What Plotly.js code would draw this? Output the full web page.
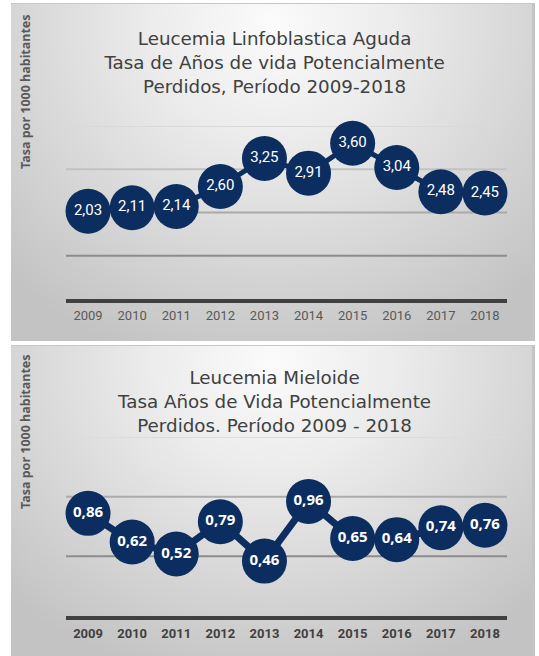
<!DOCTYPE html>
<html>
<head>
<meta charset="utf-8">
<script src="https://cdn.plot.ly/plotly-3.0.1.min.js"></script>
<style>
  html, body { margin: 0; padding: 0; background: #ffffff; width: 539px; height: 656px; overflow: hidden; }
  .panel {
    position: absolute;
    left: 11px;
    width: 524px;
    background: radial-gradient(ellipse 72% 105% at 50% 6%, #fbfbfb 0%, #ececec 32%, #d6d6d6 68%, #c3c3c3 100%);
    box-shadow: inset -3px 0 0 #c4c4c4, inset 0 1px 0 #c6c6c6;
  }
</style>
</head>
<body>
<div id="c1" class="panel" style="top:3px;height:338px;"></div>
<div id="c2" class="panel" style="top:345px;height:311px;"></div>
<script>
// ---- data ----
const years = ['2009', '2010', '2011', '2012', '2013', '2014', '2015', '2016', '2017', '2018'];
const llaValues = [2.03, 2.11, 2.14, 2.60, 3.25, 2.91, 3.60, 3.04, 2.48, 2.45];
const mieloideValues = [0.86, 0.62, 0.52, 0.79, 0.46, 0.96, 0.65, 0.64, 0.74, 0.76];
const llaGridValues = [1, 2, 3, 4];
const mieloideGridValues = [0.5, 1.0, 1.5];
const llaTitle = 'Leucemia Linfoblastica Aguda<br>Tasa de Años de vida Potencialmente<br>Perdidos, Período 2009-2018';
const mieloideTitle = 'Leucemia Mieloide<br>Tasa Años de Vida Potencialmente<br>Perdidos. Período 2009 - 2018';
const yTitleText = 'Tasa por 1000 habitantes';

// ---- styles ----
const NAVY = '#0b2d5f';
const llaGridColors = ['#8c8c8c', '#a9a9a9', '#c2c2c2', '#d9d9d9'];
const mieloideGridColors = ['#8c8c8c', '#ababab', '#dcdcdc'];

function fmt(v) { return v.toFixed(2).replace('.', ','); }

function gridShapes(vals, colors) {
  return vals.map((v, i) => ({
    type: 'line', xref: 'paper', x0: 0, x1: 1, yref: 'y', y0: v, y1: v,
    line: { color: colors[i], width: 2 }, layer: 'below'
  }));
}

function makeChart(id, values, gridVals, gridColors, opts) {
  const trace = {
    x: years,
    y: values,
    type: 'scatter',
    mode: 'lines+markers+text',
    text: values.map(fmt),
    textposition: 'middle center',
    textfont: opts.labelFont,
    line: { color: NAVY, width: opts.lineWidth },
    marker: { color: NAVY, size: 45, line: { width: 0 } },
    cliponaxis: false,
    hoverinfo: 'skip'
  };
  const layout = {
    width: 524,
    height: opts.height,
    margin: opts.margin,
    paper_bgcolor: 'rgba(0,0,0,0)',
    plot_bgcolor: 'rgba(0,0,0,0)',
    showlegend: false,
    title: {
      text: opts.title,
      font: { family: '"DejaVu Sans", sans-serif', size: 18.3, color: '#404040' },
      xref: 'container', x: 0.503, xanchor: 'center',
      yref: 'container', y: opts.titleY, yanchor: 'middle'
    },
    xaxis: {
      type: 'category',
      range: [-0.5, 9.5],
      showgrid: false,
      zeroline: false,
      showline: true,
      linecolor: '#404040',
      linewidth: 4,
      ticks: '',
      tickfont: opts.tickFont,
      ticklabelstandoff: opts.tickStandoff,
      fixedrange: true
    },
    yaxis: {
      range: opts.yRange,
      showgrid: false,
      zeroline: false,
      showline: false,
      showticklabels: false,
      ticks: '',
      fixedrange: true
    },
    shapes: gridShapes(gridVals, gridColors),
    annotations: [{
      text: yTitleText,
      textangle: -90,
      xref: 'paper', x: opts.yTitleX, xanchor: 'center',
      yref: 'paper', y: opts.yTitleY, yanchor: 'middle',
      showarrow: false,
      font: { family: 'Noto Sans', size: 12.5, color: '#595959', weight: 'bold' }
    }]
  };
  Plotly.newPlot(id, [trace], layout, { displayModeBar: false, staticPlot: true });
}

makeChart('c1', llaValues, llaGridValues, llaGridColors, {
  height: 338,
  margin: { l: 55, r: 28, t: 123, b: 42 },
  yRange: [0, 4],
  lineWidth: 5,
  title: llaTitle,
  titleY: 1 - 42 / 338,
  labelFont: { family: 'Roboto', size: 15, color: '#ffffff' },
  tickFont: { family: 'Roboto', size: 13, color: '#595959' },
  tickStandoff: 1,
  yTitleX: (14 - 55) / 441,
  yTitleY: (296 - 89) / 173
});

makeChart('c2', mieloideValues, mieloideGridValues, mieloideGridColors, {
  height: 311,
  margin: { l: 55, r: 28, t: 92, b: 40 },
  yRange: [0, 1.5],
  lineWidth: 7,
  title: mieloideTitle,
  titleY: 1 - 39 / 311,
  labelFont: { family: 'Open Sans', size: 15, color: '#ffffff', weight: 'bold' },
  tickFont: { family: 'Roboto', size: 13, color: '#404040', weight: 'bold' },
  tickStandoff: 2,
  yTitleX: (14 - 55) / 441,
  yTitleY: (271 - 87) / 179
});
</script>
</body>
</html>
